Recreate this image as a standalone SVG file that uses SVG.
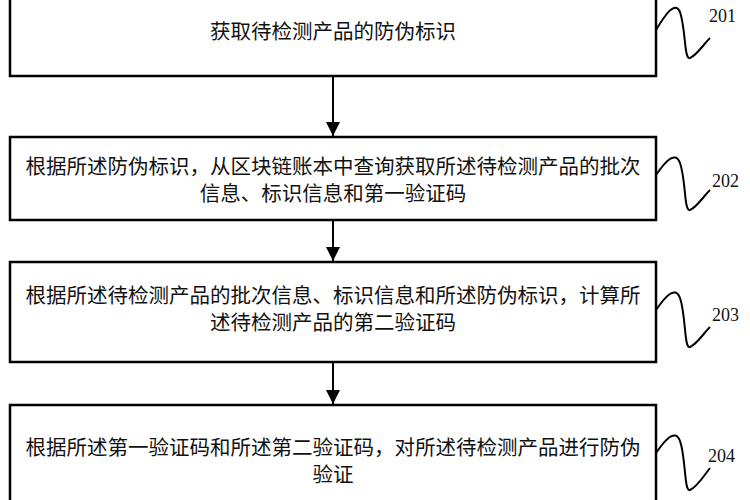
<svg xmlns="http://www.w3.org/2000/svg" width="750" height="500" viewBox="0 0 750 500">
<style>
.box{fill:#fff;stroke:#000;stroke-width:2.5}
.t{font-family:"Noto Sans CJK SC",sans-serif;font-size:20.5px;text-anchor:middle;fill:#111}
.n{font-family:"Liberation Serif",serif;font-size:18px;fill:#111}
.sq{fill:none;stroke:#000;stroke-width:2}
.c{stroke:#000;stroke-width:2}
</style>
<defs><marker id="a" markerWidth="14" markerHeight="16" refX="14" refY="7" orient="auto" markerUnits="userSpaceOnUse" viewBox="0 0 14 14"><path d="M0,0L14,7L0,14z"/></marker></defs>
<rect width="750" height="500" fill="#fff"/>
<g id="connectors">
<line class="c" x1="333" y1="76" x2="333" y2="136" marker-end="url(#a)"/>
<line class="c" x1="333" y1="220" x2="333" y2="261" marker-end="url(#a)"/>
<line class="c" x1="333" y1="362" x2="333" y2="404" marker-end="url(#a)"/>
</g>
<g id="n201"><rect class="box" x="10" y="-10" width="646" height="86"/>
<text class="t" x="333" y="39">获取待检测产品的防伪标识</text>
<path class="sq" d="M656,30 C665,15 675,0 680,12 C686,30 684,60 690,58 C697,55 703,45 710,38"/><text class="n" x="709" y="22">201</text></g>
<g id="n202"><rect class="box" x="10" y="137" width="646" height="83"/>
<text class="t" x="333" y="174">根据所述防伪标识，从区块链账本中查询获取所述待检测产品的批次</text>
<text class="t" x="333" y="201">信息、标识信息和第一验证码</text>
<path class="sq" d="M656,175 C665,162 675,150 680,163 C686,180 684,212 690,210 C697,207 703,197 710,190"/><text class="n" x="712" y="187">202</text></g>
<g id="n203"><rect class="box" x="10" y="262" width="646" height="100"/>
<text class="t" x="333" y="303">根据所述待检测产品的批次信息、标识信息和所述防伪标识，计算所</text>
<text class="t" x="333" y="330">述待检测产品的第二验证码</text>
<path class="sq" d="M656,310 C665,297 675,285 680,298 C686,315 684,349 690,347 C697,344 703,334 710,327"/><text class="n" x="712" y="321">203</text></g>
<g id="n204"><rect class="box" x="10" y="405" width="646" height="110"/>
<text class="t" x="333" y="455">根据所述第一验证码和所述第二验证码，对所述待检测产品进行防伪</text>
<text class="t" x="333" y="482">验证</text>
<path class="sq" d="M656,453 C665,440 675,428 680,441 C686,458 684,492 690,490 C697,487 703,477 710,468"/><text class="n" x="708" y="462">204</text></g>
</svg>
